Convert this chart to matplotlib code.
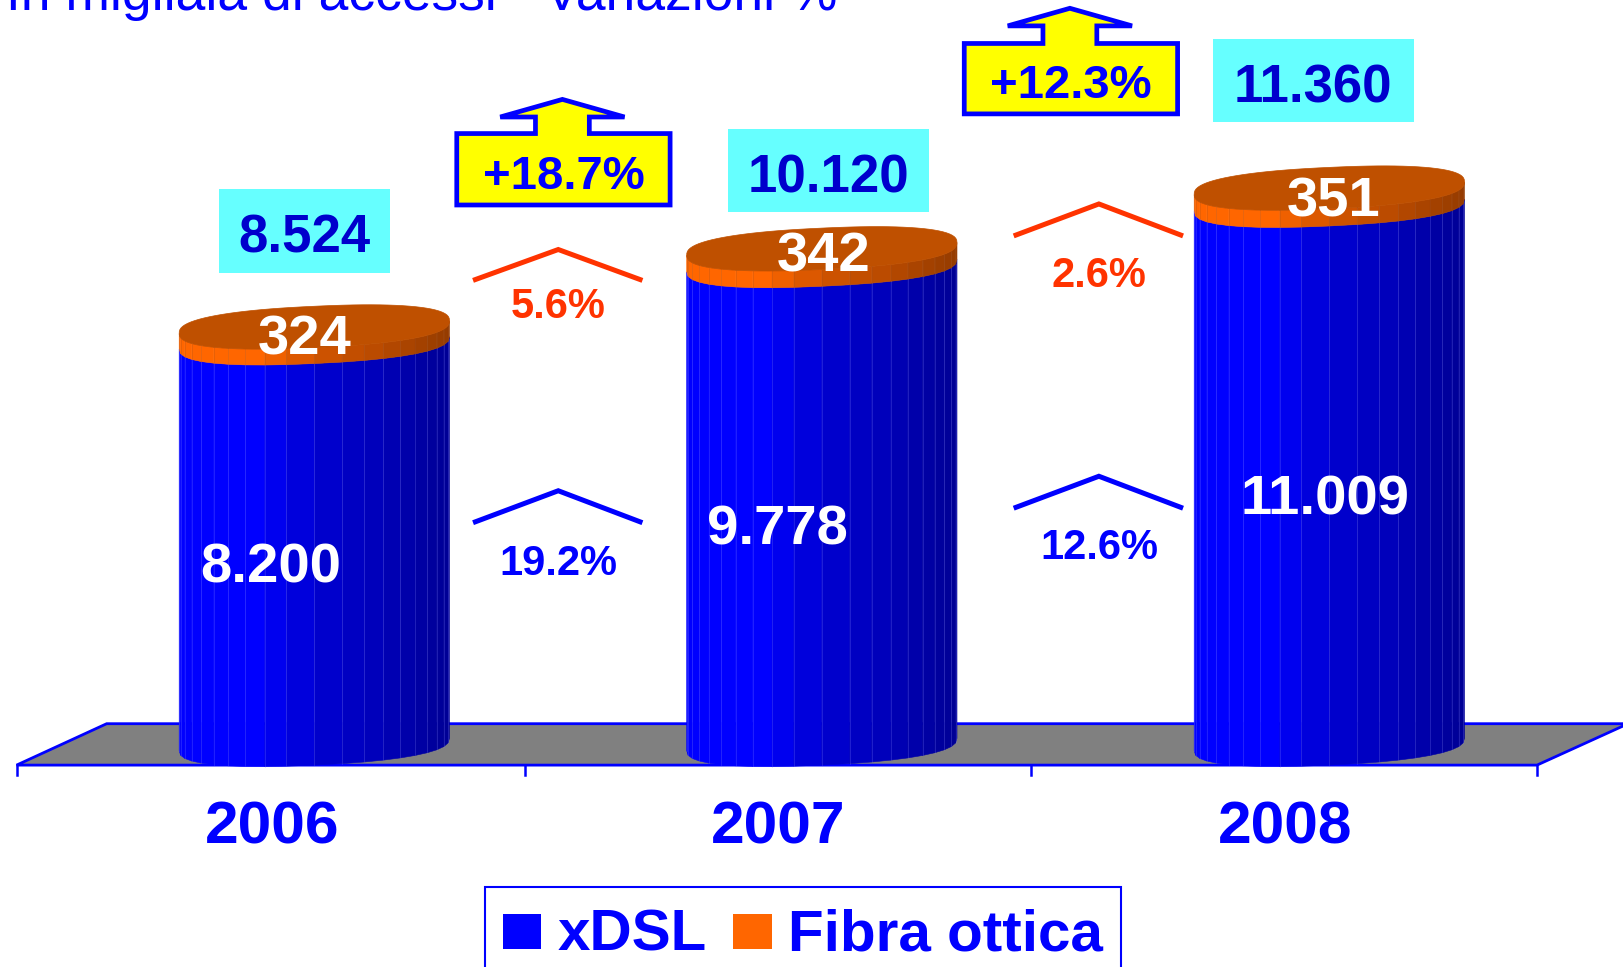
import numpy as np
import matplotlib
matplotlib.use("Agg")
import matplotlib.pyplot as plt
from matplotlib.patches import Polygon, Rectangle

years = ["2006", "2007", "2008"]
xdsl = [8200, 9778, 11009]
fibra = [324, 342, 351]
totals = ["8.524", "10.120", "11.360"]
xdsl_labels = ["8.200", "9.778", "11.009"]
fibra_labels = ["324", "342", "351"]
growth_total = ["+18.7%", "+12.3%"]
growth_xdsl = ["19.2%", "12.6%"]
growth_fibra = ["5.6%", "2.6%"]

BLUE = "#0000FF"
RED = "#FF3300"
plt.rcParams["font.family"] = ["Liberation Sans", "DejaVu Sans"]

W, H = 1568, 934
PX_PER_UNIT = 0.0473
BASE_Y = 719
CX0, CX_STEP = 303.5, 490
RX, RY, TILT = 130.5, 20, 6

fig = plt.figure(figsize=(16.24, 9.67), dpi=100)

# pixel axes for floor and annotations, value axes for the cylinders
ov = fig.add_axes([0, 0, 1, 1], zorder=1)
ov.set_xlim(0, W)
ov.set_ylim(H, 0)
ov.axis("off")

ax = fig.add_axes([0, 0, 1, 1], zorder=2)
ax.set_xlim(0, W)
ax.set_ylim((BASE_Y - H) / PX_PER_UNIT, BASE_Y / PX_PER_UNIT)
ax.axis("off")
ax.patch.set_alpha(0)


def shade(frac):
    return np.interp(frac, [0, 0.28, 0.5, 0.75, 1], [1, 1, 0.82, 0.72, 0.58])


def scaled(rgb, f):
    return (rgb[0] * f, rgb[1] * f, rgb[2] * f)


def ring(cx, v, t):
    # slightly squared ellipse, the rim in the picture is flat on top and bottom
    c = np.sign(np.cos(t)) * np.abs(np.cos(t)) ** 0.85
    s = np.sign(np.sin(t)) * np.abs(np.sin(t)) ** 0.8
    x = cx + RX * c
    y = v + (TILT * c - RY * s) / PX_PER_UNIT
    return x, y


def draw_side(cx, v0, v1, rgb, edge):
    ts = np.linspace(np.pi, 0, 21)
    for a, b in zip(ts[:-1], ts[1:]):
        xa0, ya0 = ring(cx, v0, a)
        xb0, yb0 = ring(cx, v0, b)
        xa1, ya1 = ring(cx, v1, a)
        xb1, yb1 = ring(cx, v1, b)
        frac = ((xa0 + xb0) / 2 - (cx - RX)) / (2 * RX)
        c = scaled(rgb, shade(frac))
        ax.add_patch(Polygon([(xa0, ya0), (xb0, yb0), (xb1, yb1), (xa1, ya1)],
                             facecolor=c, edgecolor=c, lw=0.4))
        ax.plot([xa0, xa1], [ya0, ya1], color=edge, lw=0.5, alpha=0.35)


for i, year in enumerate(years):
    cx = CX0 + CX_STEP * i
    top_blue = xdsl[i]
    top_all = xdsl[i] + fibra[i]
    draw_side(cx, 0, top_blue, (0, 0, 1), "#8080FF")
    draw_side(cx, top_blue, top_all, (1, 0.4, 0), "#A05020")
    ts = np.linspace(0, 2 * np.pi, 90)
    x, y = ring(cx, top_all, ts)
    ax.add_patch(Polygon(np.column_stack([x, y]), facecolor="#BF5000", edgecolor="#BF5000", lw=0.5))

# floor
ov.add_patch(Polygon([(16, 739), (103, 699), (1572, 699), (1484, 739)],
                     facecolor="#808080", edgecolor=BLUE, lw=2))
for x in [16, 507, 995, 1484]:
    ov.plot([x, x], [739, 749], color=BLUE, lw=1.8)

year_x = [263, 751, 1241]
for x, s in zip(year_x, years):
    ov.text(x, 800, s, color=BLUE, fontsize=43.5, fontweight="bold", ha="center", va="center")

# labels inside the cylinders
xdsl_pos = [(261, 549), (751, 512), (1279, 483)]
for (x, y), s in zip(xdsl_pos, xdsl_labels):
    ax.text(x, y, s, transform=ov.transData, color="white", fontsize=40.5,
            fontweight="bold", ha="center", va="center", zorder=10)
fibra_pos = [(294, 329), (795, 249), (1288, 196)]
for (x, y), s in zip(fibra_pos, fibra_labels):
    ax.text(x, y, s, transform=ov.transData, color="white", fontsize=40.5,
            fontweight="bold", ha="center", va="center", zorder=10)

# totals in cyan boxes
boxes = [(211, 183, 166, 81), (703, 125, 194, 80), (1171, 38, 194, 80)]
for (x, y, w, h), s in zip(boxes, totals):
    ov.add_patch(Rectangle((x, y), w, h, facecolor="#66FFFF", edgecolor="none"))
    ov.text(x + w / 2, y + h / 2 + 7, s, color="#0000CC", fontsize=38,
            fontweight="bold", ha="center", va="center")

# yellow arrow callouts
callouts = [(441, 129, 206, 69, 543, 96), (931, 42, 206, 68, 1033, 8)]
for (x, y, w, h, ax_x, tip), s in zip(callouts, growth_total):
    head_y = tip + 17
    pts = [(x, y), (ax_x - 26, y), (ax_x - 26, head_y), (ax_x - 60, head_y), (ax_x, tip),
           (ax_x + 60, head_y), (ax_x + 26, head_y), (ax_x + 26, y), (x + w, y),
           (x + w, y + h), (x, y + h)]
    ov.add_patch(Polygon(pts, facecolor="#FFFF00", edgecolor=BLUE, lw=3.4, joinstyle="miter"))
    ov.text(x + w / 2, y + h / 2 + 7, s, color=BLUE, fontsize=34,
            fontweight="bold", ha="center", va="center")

# chevrons with the variation by technology
red_chev = [(459, 241, 270, 297), (981, 197, 227, 267)]
blue_chev = [(459, 474, 504, 545), (981, 460, 490, 529)]
for (x, top, low, ty), s in zip(red_chev, growth_fibra):
    ov.plot([x, x + 80, x + 159], [low, top, low], color=RED, lw=3.6, solid_joinstyle="miter")
    ov.text(x + 80, ty, s, color=RED, fontsize=30, fontweight="bold", ha="center", va="center")
for (x, top, low, ty), s in zip(blue_chev, growth_xdsl):
    ov.plot([x, x + 80, x + 159], [low, top, low], color=BLUE, lw=3.6, solid_joinstyle="miter")
    ov.text(x + 80, ty, s, color=BLUE, fontsize=30, fontweight="bold", ha="center", va="center")

# legend, cut by the bottom of the picture
ov.add_patch(Rectangle((468, 857), 614, 90, facecolor="white", edgecolor=BLUE, lw=1.5))
ov.add_patch(Rectangle((486, 883), 36, 34, facecolor=BLUE, edgecolor="none"))
ov.add_patch(Rectangle((708, 883), 37, 34, facecolor="#FF6600", edgecolor="none"))
ov.text(538, 904, "xDSL", color=BLUE, fontsize=42, fontweight="bold", ha="left", va="center")
ov.text(761, 904, "Fibra ottica", color=BLUE, fontsize=42, fontweight="bold", ha="left", va="center")

# title, cut by the top of the picture
ov.text(6, 10, "In migliaia di accessi - Variazioni %", color=BLUE, fontsize=38.4, ha="left", va="baseline")

fig.savefig("out.png", dpi=100)
